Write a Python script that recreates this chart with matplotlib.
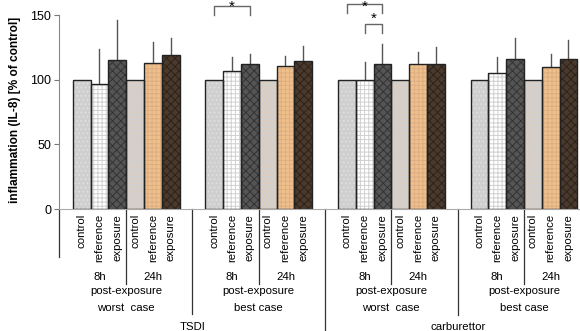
import numpy as np
import matplotlib
matplotlib.use("Agg")
import matplotlib.pyplot as plt

plt.rcParams['font.family'] = ['Liberation Sans', 'DejaVu Sans']
plt.rcParams['hatch.linewidth'] = 0.7

# data: 4 panels x 6 bars (8h control/reference/exposure, 24h control/reference/exposure)
bar_labels = ["control", "reference", "exposure", "control", "reference", "exposure"]
case_labels = ["worst  case", "best case", "worst  case", "best case"]
device_labels = ["TSDI", "carburettor"]

tsdi_worst = [100, 96.6, 115.2, 100, 113.1, 119.0]
tsdi_worst_err = [0, 27.1, 31.2, 0, 16.0, 13.2]
tsdi_best = [100, 106.6, 112.3, 100, 111.0, 114.4]
tsdi_best_err = [0, 10.9, 7.7, 0, 7.5, 11.9]
carb_worst = [100, 100, 112.3, 100, 112.3, 112.3]
carb_worst_err = [0, 14.1, 15.5, 0, 9.5, 12.9]
carb_best = [100, 105.3, 116.2, 100, 109.8, 116.2]
carb_best_err = [0, 12.7, 16.0, 0, 10.2, 14.7]

values = [tsdi_worst, tsdi_best, carb_worst, carb_best]
errors = [tsdi_worst_err, tsdi_best_err, carb_worst_err, carb_best_err]

# bar styles (fill colour, hatch, hatch colour)
fills = ['#cfcfcf', '#ffffff', '#555555', '#d3cfcc', '#f0c08c', '#4a3a2e']
hatches = ['....', '++++', 'xxxx', '....', '++++', 'xxxx']
hatch_cols = ['#e0e0e0', '#d0d0d0', '#333333', '#e6cdb4', '#dcae80', '#2e2218']

fig = plt.figure(figsize=(5.8, 3.31), dpi=100)
ax = fig.add_axes([59 / 580, 1 - 209 / 331, 1 - 59 / 580, 193.7 / 331])

gstep = 7.45
pos = np.arange(6)
for g in range(4):
    x = g * gstep + pos
    ax.bar(x, values[g], width=1.0, color=fills, hatch=hatches,
           edgecolor=hatch_cols, linewidth=0, zorder=2)
    ax.bar(x, values[g], width=1.0, fill=False, edgecolor='#222222',
           linewidth=1.0, zorder=3)
    for xi, v, e in zip(x, values[g], errors[g]):
        if e > 0:
            ax.plot([xi, xi], [v, v + e], color='#555555', lw=1.0, zorder=1)

ax.set_xlim(-1.27, 28.0)
ax.set_ylim(0, 150)
ax.set_yticks([0, 50, 100, 150])
ax.tick_params(axis='y', labelsize=9, length=3.5, color='#777777', pad=2)
ax.set_xticks([])
for s in ['top', 'right']:
    ax.spines[s].set_visible(False)
ax.spines['left'].set_color('#888888')
ax.spines['bottom'].set_color('#aaaaaa')

fig.text(15 / 580, 0.668, "inflammation (IL-8) [% of control]", rotation=90,
         fontsize=8.6, fontweight='bold', ha='center', va='center')

# label area below the axis
tr = ax.get_xaxis_transform()


def yf(py):
    return (209 - py) / 193.7


def vline(x, py_end):
    ax.plot([x, x], [0, yf(py_end)], transform=tr, color='#333333',
            lw=0.9, clip_on=False)


vline(-1.27, 256.7)
for g in range(4):
    base = g * gstep
    vline(base + 2.5, 284)
    for i, lab in enumerate(bar_labels):
        ax.text(base + i, yf(214), lab, transform=tr, rotation=90,
                ha='center', va='top', fontsize=8.2)
    ax.text(base + 1, yf(277), "8h", transform=tr, ha='center', va='center', fontsize=8.2)
    ax.text(base + 4, yf(277), "24h", transform=tr, ha='center', va='center', fontsize=8.2)
    ax.text(base + 2.5, yf(291), "post-exposure", transform=tr, ha='center',
            va='center', fontsize=8.2)
    ax.text(base + 2.5, yf(308), case_labels[g], transform=tr, ha='center',
            va='center', fontsize=8.2)

sep = [gstep * k + 5.5 + (gstep - 6) / 2 for k in range(3)]
vline(sep[0], 314)
vline(sep[1], 331)
vline(sep[2], 315)
ax.text(sep[0], yf(327), device_labels[0], transform=tr, ha='center', va='center', fontsize=8.2)
ax.text(sep[2], yf(327), device_labels[1], transform=tr, ha='center', va='center', fontsize=8.2)


# significance brackets
def bracket(x0, x1, top, leg, star_y, va='center'):
    ax.plot([x0, x0, x1, x1], [leg, top, top, leg], color='#666666', lw=1.0,
            clip_on=False)
    ax.text((x0 + x1) / 2, star_y, "*", ha='center', va=va,
            fontsize=11, clip_on=False)


bracket(gstep, gstep + 2, 157.5, 150.3, 161.7, va='top')
bracket(2 * gstep, 2 * gstep + 2, 159.0, 152.0, 161.7, va='top')
bracket(2 * gstep + 1, 2 * gstep + 2, 143.3, 136.0, 147.5)

fig.savefig("out.png", dpi=100)
